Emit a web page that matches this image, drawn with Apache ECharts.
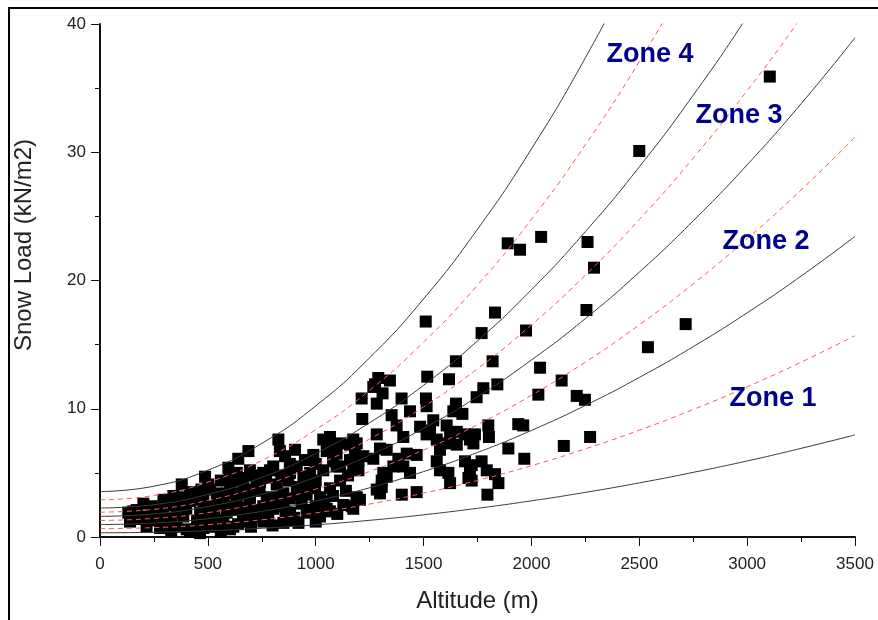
<!DOCTYPE html>
<html><head><meta charset="utf-8">
<script src="https://cdn.jsdelivr.net/npm/echarts@6/dist/echarts.min.js"></script>
<style>html,body{margin:0;padding:0;background:#fff}#c{width:878px;height:620px}</style>
</head><body><div id="c"></div>
<script>
// Altitude steps (m) at which the zone curves were read
const altitudeSteps = [0,250,500,750,1000,1250,1500,1750,2000,2250,2500,2750,3000,3250,3500];
// Solid zone boundary curves (kN/m2)
const boundary1 = [0.33,0.37,0.49,0.68,0.95,1.30,1.73,2.24,2.82,3.48,4.22,5.04,5.93,6.91,7.96];
const boundary2 = [0.97,1.09,1.43,2.00,2.81,3.84,5.10,6.59,8.31,10.26,12.44,14.84,17.48,20.34,23.44];
const boundary3 = [1.61,1.80,2.38,3.33,4.66,6.37,8.47,10.94,13.80,17.03,20.65,24.65,29.02,33.78,38.92];
const boundary4 = [2.26,2.52,3.32,4.65,6.51,8.91,11.83,15.29,19.28,23.81,28.86,34.45,40.57,47.22];
const boundary5 = [3.54,3.96,5.21,7.30,10.22,13.98,18.57,24.00,30.26,37.36,45.29];
// Dashed zone centre curves (kN/m2)
const centre1 = [0.65,0.73,0.96,1.34,1.88,2.57,3.42,4.41,5.56,6.87,8.33,9.94,11.71,13.63,15.70];
const centre2 = [1.29,1.45,1.90,2.67,3.73,5.11,6.78,8.76,11.05,13.64,16.54,19.74,23.25,27.06,31.18];
const centre3 = [1.94,2.16,2.85,3.99,5.59,7.64,10.15,13.12,16.54,20.42,24.75,29.55,34.80,40.50,46.66];
const centre4 = [2.90,3.24,4.27,5.97,8.37,11.44,15.20,19.64,24.77,30.58,37.07,44.25];

// Zone labels
const zoneNames = ['Zone 4','Zone 3','Zone 2','Zone 1'];
const zoneAltitude = [2550, 2962, 3088, 3120];
const zoneLoad = [37.6, 32.9, 23.0, 10.8];

// Observed stations [altitude m, snow load kN/m2]
const stationPoints = [
[3105,35.9],[2500,30.1],[2045,23.4],[2260,23.0],[1890,22.9],[1947,22.4],[2290,21.0],[2255,17.7],[2715,16.6],[2540,14.8],
[1510,16.8],[1831,17.5],[1769,15.9],[1975,16.1],[1650,13.7],[1820,13.7],[2040,13.2],[2140,12.2],[2032,11.1],[2210,11.0],
[2248,10.7],[2150,7.1],[2272,7.8],[1777,11.6],[1746,10.9],[1842,11.9],[1517,12.5],[1618,12.3],
[1290,12.4],[1344,12.2],[1267,11.7],[1310,11.2],[1283,10.4],[1398,10.8],[1511,10.8],[1514,10.2],[1650,10.4],[1638,9.8],
[1680,9.6],[1352,9.5],[1437,9.8],[1216,9.2],[1375,8.7],[1484,8.6],[1545,9.1],[1530,8.3],[1607,8.7],[1623,8.1],
[1654,8.2],[1692,8.0],[1715,7.6],[1406,7.8],[1514,8.0],[1561,7.6],[1607,7.3],[1576,6.8],[1654,7.2],[1283,8.0],
[1190,7.3],[1298,6.9],[1329,6.8],[1267,6.1],[1198,6.0],[1383,6.1],[1422,6.5],[1468,6.4],[1360,5.5],[1406,5.5],
[1437,5.0],[1329,4.7],[1306,3.9],[1298,3.4],[1399,3.3],[1468,3.5],[1561,5.9],[1576,5.2],[1615,5.0],[1623,4.2],
[1692,5.9],[1715,5.2],[1708,4.6],[1174,5.5],[1190,2.9],[1167,2.4],[1174,7.6],[1221,6.3],[1198,5.2],[1213,10.8],[1275,11.9],
[1800,8.7],[1939,8.8],[1962,8.7],[1803,7.8],[1738,8.0],[1731,7.3],[1893,6.9],[1967,6.1],[1769,5.9],[1793,5.2],
[1831,4.9],[1847,4.2],[1723,5.6],[1723,4.4],[1796,3.3],
[827,7.6],[688,6.7],[641,6.1],[1035,7.6],[1066,7.4],[1113,7.3],[1051,6.7],[1097,6.5],[1159,7.2],[1182,6.4],
[989,6.4],[904,6.8],[858,6.3],[803,5.5],[757,5.0],[695,5.2],[634,5.0],[912,5.5],[974,5.0],[873,4.4],
[819,4.1],[742,4.3],[664,4.1],[618,3.4],[695,3.1],[773,3.1],[850,3.4],[912,3.9],[997,3.8],[1066,3.8],
[1113,4.4],[1020,3.1],[958,3.3],[1051,2.2],[1128,2.5],[1190,3.1],[634,2.1],[726,2.1],[803,2.2],[881,1.9],
[958,1.9],[1020,1.6],[664,1.2],[757,1.2],[850,1.1],[935,2.6],[1113,5.5],
[379,4.1],[487,4.7],[595,5.4],[201,2.6],[294,2.9],[131,1.9],[139,1.2],[216,1.6],[216,0.8],[294,2.0],
[309,0.9],[371,2.6],[386,1.6],[402,0.6],[433,2.9],[464,1.9],[448,0.6],[510,3.7],[525,2.4],[541,0.9],
[572,3.1],[587,1.9],[603,0.6],[626,4.4],[634,2.6],[502,4.1],[417,3.5],[270,2.2],[170,2.1],[355,0.8],
[834,6.7],[1159,6.0],[1097,5.5],[1035,5.2],[943,4.7],[881,5.0],[788,5.2],[726,4.4],[603,3.7],[541,3.4],
[479,3.1],[417,2.8],[355,2.4],[154,2.0],[278,0.7],[417,0.4],[464,0.3],[510,0.8],[618,0.8],[572,1.3],
[664,1.6],[881,1.3],[974,2.1],[1066,2.0],[1174,2.2],[1205,2.9],[943,3.4],[819,3.1],[695,2.9],[603,2.4],
[757,2.4],[850,2.4],[1283,3.7],[1306,4.4],[1313,5.0],[1066,7.8],
[250,1.3],[330,1.5],[330,2.5],[290,1.2],[360,1.9],[400,2.2],[450,1.3],[480,2.3],[500,1.5],[530,1.6],
[560,2.6],[545,2.9],[590,3.4],[650,3.3],[680,2.3],[710,1.6],[700,3.7],[740,3.6],[780,1.7],[790,2.7],
[830,2.8],[860,2.0],[880,3.0],[900,1.5],[920,3.3],[960,4.2],[1000,4.4],[1000,2.4],[1040,2.8],[1080,3.2],
[1100,1.8],[1140,3.6],[1150,4.8],[1080,5.9],[1000,5.7],[950,6.0],[880,5.7],[840,4.8],[770,4.6],[710,4.8],
[660,4.6],[600,4.6],[560,4.4],[470,3.7],[440,3.3],[380,3.1],[340,3.2],[240,2.4],[190,1.4],[250,2.0],
[330,0.5],[480,0.7],[560,0.4],[640,1.0],[700,0.8],[800,0.9],[920,1.1],[1000,1.2]
];

const xTicks = {min:0, max:3500, interval:500};
const yTicks = {min:0, max:40, interval:10};

function pairs(vals){ return vals.map((v,i)=>[altitudeSteps[i], v]); }
function curve(vals, dashed){
  return {
    type:'line', data: pairs(vals), smooth: true, showSymbol:false, symbol:'none', silent:true, clip:true, z:3,
    lineStyle: dashed ? {color:'#ff5a5a', width:1, type:[5,4], opacity:1} : {color:'#3a3a3a', width:1, opacity:1}
  };
}

const tickFont = {fontFamily:'Liberation Sans, Arial, sans-serif', fontSize:17, color:'#222', formatter: v => String(v)};
const chart = echarts.init(document.getElementById('c'), null, {renderer:'canvas'});
chart.setOption({
  animation:false,
  backgroundColor:'#fff',
  grid:{left:100, right:23, top:24, bottom:83, containLabel:false, outerBoundsMode:'none'},
  xAxis:{
    type:'value', min:xTicks.min, max:xTicks.max, interval:xTicks.interval,
    name:'Altitude (m)', nameLocation:'middle', nameGap:52,
    nameTextStyle:{fontFamily:'Liberation Sans, Arial, sans-serif', fontSize:24, color:'#222'},
    axisLine:{show:true, onZero:false, lineStyle:{color:'#111', width:2}},
    axisTick:{show:true, inside:false, length:9, lineStyle:{color:'#111', width:1}},
    minorTick:{show:true, splitNumber:2, length:5, lineStyle:{color:'#111', width:1}},
    axisLabel:Object.assign({margin:19, showMinLabel:true, showMaxLabel:true}, tickFont),
    splitLine:{show:false}, minorSplitLine:{show:false}
  },
  yAxis:{
    type:'value', min:yTicks.min, max:yTicks.max, interval:yTicks.interval,
    axisLine:{show:true, onZero:false, lineStyle:{color:'#111', width:2}},
    axisTick:{show:true, inside:false, length:9, lineStyle:{color:'#111', width:1}},
    minorTick:{show:true, splitNumber:2, length:5, lineStyle:{color:'#111', width:1}},
    axisLabel:Object.assign({margin:14, showMinLabel:true, showMaxLabel:true}, tickFont),
    splitLine:{show:false}, minorSplitLine:{show:false}
  },
  graphic:[
    {type:'rect', shape:{x:9, y:8, width:900, height:700}, style:{fill:'none', stroke:'#000', lineWidth:2}, silent:true, z:-1},
    {type:'text', x:24, y:245, rotation:Math.PI/2,
     style:{text:'Snow Load (kN/m2)', fontFamily:'Liberation Sans, Arial, sans-serif', fontSize:24, fill:'#222', align:'center', verticalAlign:'middle'}}
  ],
  series:[
    {type:'scatter', data: stationPoints, symbol:'rect', symbolSize:12, itemStyle:{color:'#000', opacity:1}, silent:true, z:2},
    curve(boundary1,false), curve(centre1,true),
    curve(boundary2,false), curve(centre2,true),
    curve(boundary3,false), curve(centre3,true),
    curve(boundary4,false), curve(centre4,true),
    curve(boundary5,false),
    {type:'scatter', silent:true, z:6, symbolSize:1, itemStyle:{color:'#fff', opacity:0},
     data: zoneNames.map((n,i)=>({name:n, value:[zoneAltitude[i], zoneLoad[i]]})),
     label:{show:true, position:'inside', formatter:p=>p.name, opacity:1,
       fontFamily:'Liberation Sans, Arial, sans-serif', fontWeight:'bold', fontSize:27, color:'#00008e',
       textBorderWidth:0}}
  ]
});
</script></body></html>
